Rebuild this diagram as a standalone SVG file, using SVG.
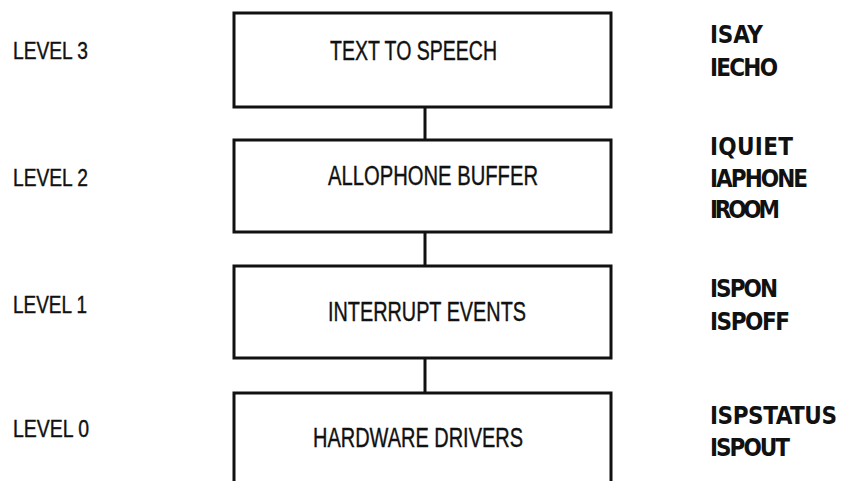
<svg xmlns="http://www.w3.org/2000/svg" width="842" height="481" viewBox="0 0 842 481">
<style>
.box{fill:#fff;stroke:#111;stroke-width:3}
.conn{stroke:#111;stroke-width:3;fill:none}
.t{font-family:"Liberation Sans",Arial,sans-serif;font-size:27px;fill:#111;stroke:#111;stroke-width:0.4}
.lvl{font-family:"Liberation Sans",Arial,sans-serif;font-size:23px;fill:#111;stroke:#111;stroke-width:0.4}
.cmd{font-family:"DejaVu Sans Condensed","DejaVu Sans","Liberation Sans",sans-serif;font-weight:bold;font-size:24px;fill:#111}
</style>
<rect width="842" height="481" fill="#fff"/>
<g id="connectors">
<line class="conn" x1="425" y1="107" x2="425" y2="140"/>
<line class="conn" x1="425" y1="232" x2="425" y2="266"/>
<line class="conn" x1="425" y1="358" x2="425" y2="393"/>
</g>
<g id="level3">
<text class="lvl" x="13" y="59" textLength="75" lengthAdjust="spacingAndGlyphs">LEVEL 3</text>
<rect class="box" x="234" y="13" width="377" height="94"/>
<text class="t" x="330" y="60" textLength="167" lengthAdjust="spacingAndGlyphs">TEXT TO SPEECH</text>
<text class="cmd" x="710" y="43" textLength="53" lengthAdjust="spacing">ISAY</text>
<text class="cmd" x="710" y="76" textLength="68" lengthAdjust="spacing">IECHO</text>
</g>
<g id="level2">
<text class="lvl" x="13" y="186" textLength="75" lengthAdjust="spacingAndGlyphs">LEVEL 2</text>
<rect class="box" x="234" y="140" width="377" height="92"/>
<text class="t" x="328" y="185" textLength="210" lengthAdjust="spacingAndGlyphs">ALLOPHONE BUFFER</text>
<text class="cmd" x="710" y="155" textLength="83" lengthAdjust="spacing">IQUIET</text>
<text class="cmd" x="710" y="187" textLength="98" lengthAdjust="spacing">IAPHONE</text>
<text class="cmd" x="710" y="218" textLength="70" lengthAdjust="spacing">IROOM</text>
</g>
<g id="level1">
<text class="lvl" x="13" y="313" textLength="74" lengthAdjust="spacingAndGlyphs">LEVEL 1</text>
<rect class="box" x="234" y="266" width="377" height="92"/>
<text class="t" x="328" y="321" textLength="198" lengthAdjust="spacingAndGlyphs">INTERRUPT EVENTS</text>
<text class="cmd" x="710" y="297" textLength="68" lengthAdjust="spacing">ISPON</text>
<text class="cmd" x="710" y="330" textLength="80" lengthAdjust="spacing">ISPOFF</text>
</g>
<g id="level0">
<text class="lvl" x="13" y="437" textLength="76" lengthAdjust="spacingAndGlyphs">LEVEL 0</text>
<rect class="box" x="234" y="393" width="377" height="110"/>
<text class="t" x="313" y="447" textLength="210" lengthAdjust="spacingAndGlyphs">HARDWARE DRIVERS</text>
<text class="cmd" x="710" y="424" textLength="127" lengthAdjust="spacing">ISPSTATUS</text>
<text class="cmd" x="710" y="456" textLength="80" lengthAdjust="spacing">ISPOUT</text>
</g>
</svg>
